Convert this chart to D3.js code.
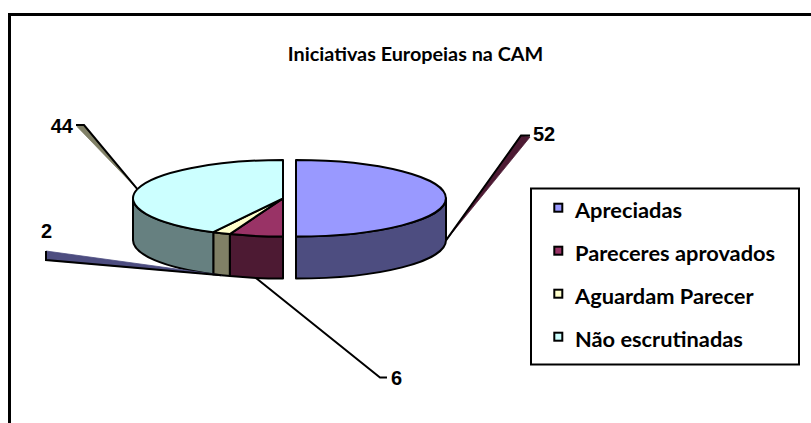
<!DOCTYPE html>
<html>
<head>
<meta charset="utf-8">
<script src="https://cdn.jsdelivr.net/npm/d3@7"></script>
<style>
  body { margin: 0; background: #fff; }
  svg { display: block; }
</style>
</head>
<body>
<svg width="811" height="423"></svg>
<script>
var title = "Iniciativas Europeias na CAM";
var categories = ["Apreciadas", "Pareceres aprovados", "Aguardam Parecer", "Não escrutinadas"];
var values = [52, 6, 2, 44];
var topColors = ["#9999FF", "#993366", "#FFFFCC", "#CCFFFF"];
var sideColors = ["#4D4D80", "#4D1A33", "#808066", "#668080"];
var leaderFill = ["#4D1A33", null, "#4D4D80", "#808066"];
var explode = [13, 0, 0, 0];

// label placement (where Excel left them)
var labelLayout = [
  { elbow: [521, 135.5], stub: [530, 135.5], wedge: [530, 137], tx: 533, ty: 141, anchor: "start" },
  { elbow: [380, 377.5], stub: [387, 377.5], wedge: null, tx: 391, ty: 385, anchor: "start" },
  { elbow: [46, 260], stub: [46, 251], wedge: [46, 251], tx: 41, ty: 238, anchor: "start" },
  { elbow: [84, 125], stub: [76, 125], wedge: [77, 126.5], tx: 73, ty: 132.5, anchor: "end" }
];

var svg = d3.select("svg");

// outer frame
svg.append("rect")
  .attr("x", 9.5).attr("y", 14.5)
  .attr("width", 830).attr("height", 440)
  .attr("fill", "none").attr("stroke", "#000").attr("stroke-width", 3);

svg.append("text")
  .attr("x", 415.5).attr("y", 61)
  .attr("text-anchor", "middle")
  .style("font-family", "Lato, 'Open Sans', sans-serif")
  .style("font-weight", "bold")
  .style("font-size", "19.8px")
  .text(title);

// 3d pie
var cx = 283, cy = 198.3, rx = 150, ry = 38.3, depth = 42;

var pie = d3.pie().sort(null).value(function (d) { return d; });
var arcs = pie(values).map(function (d, i) {
  var mid = (d.startAngle + d.endAngle) / 2;
  d.i = i;
  d.mid = mid;
  d.ox = cx + explode[i] * Math.sin(mid);
  d.oy = cy - explode[i] * Math.cos(mid) * ry / rx;
  return d;
});

function pt(d, a, dy) {
  return [d.ox + rx * Math.sin(a), d.oy - ry * Math.cos(a) + (dy || 0)];
}

function topPath(d) {
  var p0 = pt(d, d.startAngle), p1 = pt(d, d.endAngle);
  var large = d.endAngle - d.startAngle > Math.PI ? 1 : 0;
  return "M" + d.ox + "," + d.oy + "L" + p0 + "A" + rx + "," + ry + " 0 " + large + " 1 " + p1 + "Z";
}

function wallPath(d) {
  var a = Math.max(d.startAngle, Math.PI / 2);
  var b = Math.min(d.endAngle, 3 * Math.PI / 2);
  if (b <= a) return null;
  var p0 = pt(d, a), p1 = pt(d, b), q1 = pt(d, b, depth), q0 = pt(d, a, depth);
  return "M" + p0 + "A" + rx + "," + ry + " 0 0 1 " + p1 + "L" + q1 +
    "A" + rx + "," + ry + " 0 0 0 " + q0 + "Z";
}

var g = svg.append("g")
  .attr("stroke", "#000")
  .attr("stroke-width", 2)
  .attr("stroke-linejoin", "round");

g.selectAll("path.wall")
  .data(arcs.filter(function (d) { return wallPath(d); }))
  .enter().append("path")
  .attr("class", "wall")
  .attr("d", wallPath)
  .attr("fill", function (d) { return sideColors[d.i]; });

g.selectAll("path.top")
  .data(arcs)
  .enter().append("path")
  .attr("class", "top")
  .attr("d", topPath)
  .attr("fill", function (d) { return topColors[d.i]; });

// leader lines + value labels
var lg = svg.append("g");
arcs.forEach(function (d) {
  var L = labelLayout[d.i];
  var front = Math.cos(d.mid) < 0.01;
  var a = pt(d, d.mid, front ? depth : 0);
  if (L.wedge) {
    lg.append("path")
      .attr("d", "M" + a + "L" + L.elbow + "L" + L.wedge + "Z")
      .attr("fill", leaderFill[d.i])
      .attr("stroke", leaderFill[d.i])
      .attr("stroke-width", 0.8);
  }
  lg.append("path")
    .attr("d", "M" + a + "L" + L.elbow + "L" + L.stub)
    .attr("fill", "none")
    .attr("stroke", "#000")
    .attr("stroke-width", 2);
  lg.append("text")
    .attr("x", L.tx).attr("y", L.ty)
    .attr("text-anchor", L.anchor)
    .style("font-family", "'Liberation Sans', Arial, sans-serif")
    .style("font-weight", "bold")
    .style("font-size", "20px")
    .text(values[d.i]);
});

// legend
var legend = svg.append("g");
legend.append("rect")
  .attr("x", 531).attr("y", 188.5)
  .attr("width", 268).attr("height", 176)
  .attr("fill", "#fff").attr("stroke", "#000").attr("stroke-width", 2);

var items = legend.selectAll("g.item")
  .data(categories)
  .enter().append("g")
  .attr("class", "item")
  .attr("transform", function (d, i) { return "translate(0," + (i * 43) + ")"; });

items.append("rect")
  .attr("x", 554.3).attr("y", 203.7)
  .attr("width", 8).attr("height", 8)
  .attr("fill", function (d, i) { return topColors[i]; })
  .attr("stroke", "#000").attr("stroke-width", 2);

items.append("text")
  .attr("x", 575).attr("y", 218)
  .style("font-family", "Lato, 'Open Sans', sans-serif")
  .style("font-weight", "bold")
  .style("font-size", "21.8px")
  .text(function (d) { return d; });
</script>
</body>
</html>
